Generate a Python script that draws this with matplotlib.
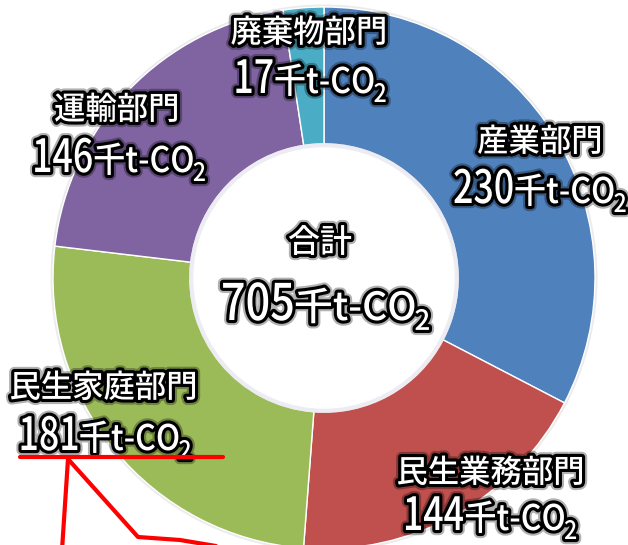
import matplotlib
matplotlib.use("Agg")
import matplotlib.pyplot as plt
import matplotlib.patheffects as pe
from matplotlib.font_manager import FontProperties
from matplotlib.lines import Line2D
from matplotlib.patches import Circle, PathPatch
from matplotlib.path import Path
from matplotlib.textpath import TextPath
from matplotlib.transforms import Affine2D, IdentityTransform

sectors = ["産業部門", "民生業務部門", "民生家庭部門", "運輸部門", "廃棄物部門"]
# slice sizes as the ring is drawn (the red slice is ~131 although its label says 144)
values = [230, 131, 181, 146, 17]
printed = ["230", "144", "181", "146", "17"]
total_title = "合計"
total = "705"
unit = "千t-CO"
colors = ["#4F81BD", "#C0504D", "#9BBB59", "#8064A2", "#4BACC6"]

W, H = 628, 545
fig = plt.figure(figsize=(W / 100, H / 100), dpi=100)
cx, cy, R = 324, H - 278, 271
ax = fig.add_axes([(cx - R) / W, (cy - R) / H, 2 * R / W, 2 * R / H])
wedges, _ = ax.pie(values, colors=colors, startangle=90, counterclock=False, radius=1,
                   wedgeprops=dict(width=0.505, edgecolor="white", linewidth=1.0))
for w in wedges:
    w.set_clip_on(False)
# soft grey rim outside and inside the ring
ax.add_patch(Circle((0, 0), 1.004, fill=False, ec="#c8c8c8", lw=2, alpha=0.35, zorder=0, clip_on=False))
ax.add_patch(Circle((0, 0), 0.49, fill=False, ec="#e0e0ea", lw=3, alpha=0.6, zorder=3, clip_on=False))
ax.set_xlim(-1, 1)
ax.set_ylim(-1, 1)
ax.set_aspect("equal")
ax.axis("off")

FONT = FontProperties(family="Noto Sans CJK JP", weight="medium")


def ink(s, size=10.0):
    return TextPath((0, 0), s, size=size, prop=FONT).get_extents()


def piece(s, height, ref, sx, x, y):
    size = 10.0 * height / ink(ref).height
    p = TextPath((0, 0), s, size=size, prop=FONT)
    e = p.get_extents()
    p = Affine2D().translate(-e.x0, 0).scale(sx, 1).translate(x, y).transform_path(p)
    return p, e.width * sx


# horizontal squeeze so the lines get the narrow look of the original font
SD = 57 / (ink("144").width * 35 / ink("0").height)
SU = 98 / (ink(unit).width * 27 / ink("C").height)
ST = 184 / (ink("民生業務部門").width * 28 / ink("門").height)


def number_line(num, xc, base, k=1.0):
    p1, w1 = piece(num, 35 * k, "0", SD * k, 0, 0)
    x2 = w1 + 3 * k
    p2, w2 = piece(unit, 27 * k, "C", SU * k, x2, 0)
    x3 = x2 + w2 + 1 * k
    p3, w3 = piece("2", 19 * k, "2", SU * k, x3, -9 * k)
    width = x3 + w3
    path = Path.make_compound_path(p1, p2, p3)
    return Affine2D().translate(xc - width / 2, H - base).transform_path(path)


def title_line(s, xc, bottom, k=1.0):
    size = 10.0 * 28 * k / ink("門").height
    p = TextPath((0, 0), s, size=size, prop=FONT)
    e = p.get_extents()
    t = Affine2D().translate(-(e.x0 + e.x1) / 2, -e.y0).scale(ST, 1).translate(xc, H - bottom)
    return t.transform_path(p)


def draw(path):
    patch = PathPatch(path, facecolor="white", edgecolor="white", lw=0,
                      transform=IdentityTransform(),
                      path_effects=[pe.Stroke(linewidth=7.5, foreground="black", alpha=0.3,
                                              joinstyle="round"),
                                    pe.Stroke(linewidth=4.5, foreground="black", joinstyle="round"),
                                    pe.Normal()])
    fig.add_artist(patch)


# label anchors in pixels: (title centre x, title bottom, number centre x, digit baseline)
spots = [(539, 154, 540, 203),
         (490, 485, 491, 530),
         (103, 400, 106, 450),
         (116, 122, 120, 172),
         (308, 45, 311, 93)]
for name, num, (tx, tb, nx, nb) in zip(sectors, printed, spots):
    draw(title_line(name, tx, tb))
    draw(number_line(num, nx, nb))

draw(title_line(total_title, 320, 255, k=1.02))
draw(number_line(total, 326, 320, k=1.1))

# red callout lines
red = dict(color="#ff0000", lw=3, transform=IdentityTransform(), solid_capstyle="round")
fig.add_artist(Line2D([20, 223], [H - 457, H - 457], **red))
fig.add_artist(Line2D([68, 62], [H - 459, H - 550], **red))
fig.add_artist(Line2D([68, 138, 180, 228], [H - 459, H - 537, H - 540, H - 548], **red))

fig.savefig("out.png", dpi=100)
